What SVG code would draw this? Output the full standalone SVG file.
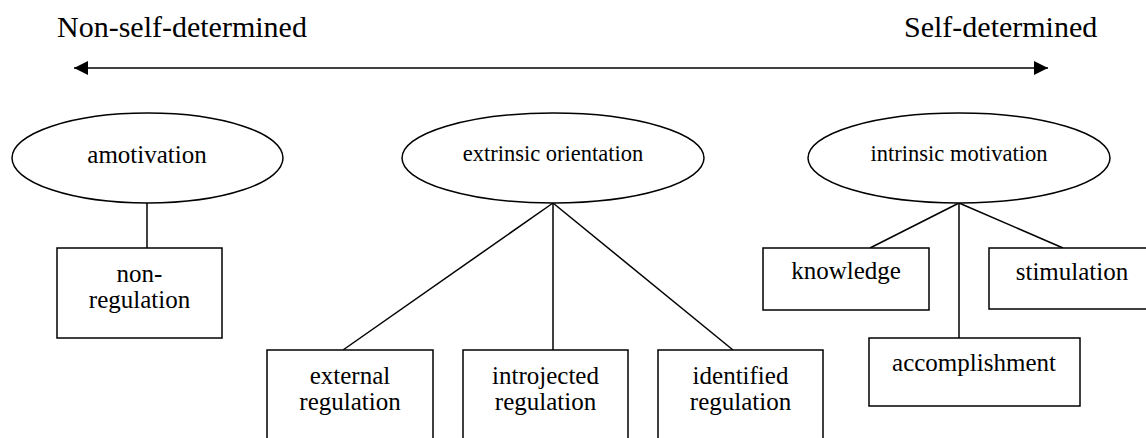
<svg xmlns="http://www.w3.org/2000/svg" width="1146" height="438" viewBox="0 0 1146 438" font-family="'Liberation Serif', 'Times New Roman', serif">
<defs>
<style>
.s{fill:none;stroke:#000;stroke-width:1.5}
.b{fill:#fff;stroke:#000;stroke-width:1.5}
text{font-family:"Liberation Serif","Times New Roman",serif !important;fill:#000}
.h{font-size:30px;text-anchor:start}
.e{font-size:22.5px;text-anchor:middle}
.t{font-size:25px;text-anchor:middle}
</style>
<marker id="ah" viewBox="0 0 14 14" refX="14" refY="7" markerWidth="14" markerHeight="14" markerUnits="userSpaceOnUse" orient="auto-start-reverse">
<path d="M0,0 L14,7 L0,14 Z" fill="#000"/>
</marker>
</defs>
<g id="labels">
<text class="h" x="57" y="37">Non-self-determined</text>
<text class="h" x="904" y="37">Self-determined</text>
</g>
<g id="connectors">
<line class="s" x1="74" y1="68" x2="1048" y2="68" marker-start="url(#ah)" marker-end="url(#ah)"/>
<line class="s" x1="147" y1="203" x2="147" y2="248"/>
<line class="s" x1="553" y1="203" x2="343" y2="350"/>
<line class="s" x1="553" y1="203" x2="553" y2="350"/>
<line class="s" x1="553" y1="203" x2="733" y2="350"/>
<line class="s" x1="959" y1="203" x2="870" y2="248"/>
<line class="s" x1="959" y1="203" x2="959" y2="338"/>
<line class="s" x1="959" y1="203" x2="1063" y2="248"/>
</g>
<g id="amotivation">
<ellipse class="b" cx="147.5" cy="158" rx="135.5" ry="45"/>
<text class="t" x="147" y="163" style="font-family:'Liberation Serif',serif !important">amotivation</text>
</g>
<g id="extrinsic">
<ellipse class="b" cx="553" cy="158" rx="151" ry="45"/>
<text class="e" x="553" y="161" style="font-family:'Liberation Serif',serif !important">extrinsic orientation</text>
</g>
<g id="intrinsic">
<ellipse class="b" cx="959" cy="158" rx="151" ry="45"/>
<text class="e" x="959" y="161" style="font-family:'Liberation Serif',serif !important">intrinsic motivation</text>
</g>
<g id="nonregulation">
<rect class="b" x="57" y="248" width="165" height="90"/>
<text class="t" x="139.5" y="282" style="font-family:'Liberation Serif',serif !important">non-</text>
<text class="t" x="139.5" y="308" style="font-family:'Liberation Serif',serif !important">regulation</text>
</g>
<g id="external">
<rect class="b" x="267" y="350" width="166" height="120"/>
<text class="t" x="350" y="384" style="font-family:'Liberation Serif',serif !important">external</text>
<text class="t" x="350" y="410" style="font-family:'Liberation Serif',serif !important">regulation</text>
</g>
<g id="introjected">
<rect class="b" x="463" y="350" width="165" height="120"/>
<text class="t" x="545.5" y="384" style="font-family:'Liberation Serif',serif !important">introjected</text>
<text class="t" x="545.5" y="410" style="font-family:'Liberation Serif',serif !important">regulation</text>
</g>
<g id="identified">
<rect class="b" x="658" y="350" width="165" height="120"/>
<text class="t" x="740.5" y="384" style="font-family:'Liberation Serif',serif !important">identified</text>
<text class="t" x="740.5" y="410" style="font-family:'Liberation Serif',serif !important">regulation</text>
</g>
<g id="knowledge">
<rect class="b" x="763" y="248" width="166" height="62"/>
<text class="t" x="846" y="279" style="font-family:'Liberation Serif',serif !important">knowledge</text>
</g>
<g id="stimulation">
<rect class="b" x="989" y="248" width="166" height="61"/>
<text class="t" x="1072" y="280" style="font-family:'Liberation Serif',serif !important">stimulation</text>
</g>
<g id="accomplishment">
<rect class="b" x="869" y="338" width="211" height="68"/>
<text class="t" x="974" y="371" style="font-family:'Liberation Serif',serif !important">accomplishment</text>
</g>
</svg>
